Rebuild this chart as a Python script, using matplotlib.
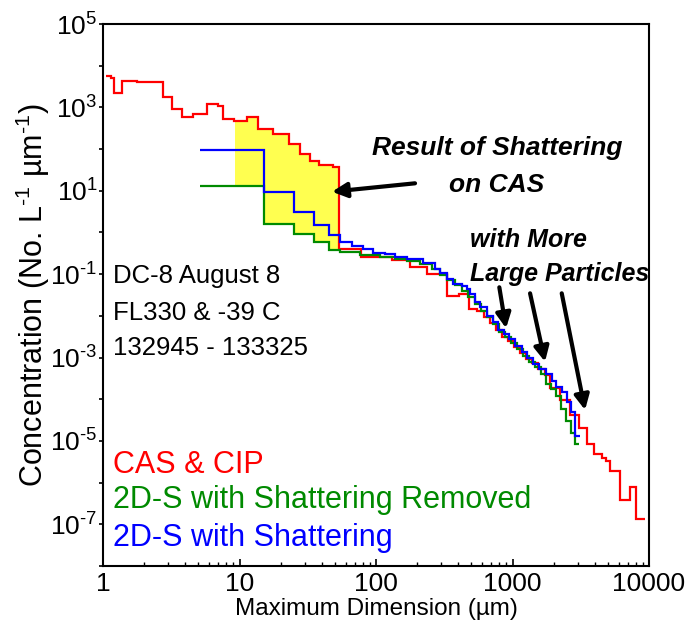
import numpy as np
import matplotlib
matplotlib.use('Agg')
import matplotlib.pyplot as plt
from matplotlib.ticker import FixedLocator, FuncFormatter, LogLocator, NullFormatter

plt.rcParams['font.family'] = 'Liberation Sans'
plt.rcParams['mathtext.fontset'] = 'custom'
plt.rcParams['mathtext.rm'] = 'Liberation Sans'
plt.rcParams['mathtext.it'] = 'Liberation Sans:italic'
plt.rcParams['mathtext.bf'] = 'Liberation Sans:bold'

# CAS & CIP combined size distribution: bin edges (um) and concentration per bin
cas_edges = [1.06, 1.14, 1.20, 1.37, 1.77, 2.74, 3.22, 3.81, 4.59, 5.81, 6.92, 7.61,
             9.11, 11.3, 13.7, 17.5, 23.0, 27.8, 32.8, 38.4, 48.2, 53.8, 77.2, 130,
             178, 235, 331, 406, 480, 550, 618, 684, 757, 838, 927, 1026, 1135, 1256,
             1390, 1538, 1730, 1882, 2228, 2638, 3070, 3514, 3955, 4526, 4842, 5180,
             6132, 7259, 8032, 9348]
cas_conc = [5700, 5000, 2270, 4330, 4030, 1730, 927, 587, 703, 1200, 1110, 525,
            460, 573, 307, 233, 132, 76, 53, 41.6, 36.5, 0.407, 0.259, 0.214,
            0.148, 0.0989, 0.0294, 0.0329, 0.0144, 0.0129, 0.0093, 0.0067, 0.0045,
            0.0031, 0.0025, 0.0018, 0.00127, 0.00092, 0.00074, 0.00053, 0.00038,
            0.000185, 9.6e-5, 4.2e-5, 2.05e-5, 8.5e-6, 4.9e-6, 3.9e-6, 3.3e-6,
            1.9e-6, 3.9e-7, 7.9e-7, 1.36e-7]

# 2D-S with shattered particles removed
s2d_clean_edges = [5.14, 15.1, 25.1, 35.1, 45.5, 54.5, 76.3, 107, 138, 169, 210, 257,
                   294, 331, 379, 427, 472, 531, 588, 651, 720, 796, 881, 975, 1079,
                   1194, 1321, 1462, 1618, 1760, 1915, 2083, 2266, 2466, 2683, 2871, 3070]
s2d_clean_conc = [12.8, 1.64, 0.896, 0.576, 0.371, 0.332, 0.282, 0.252, 0.226, 0.202,
                  0.1715, 0.130, 0.0936, 0.0711, 0.0540, 0.0388, 0.0279, 0.0189,
                  0.0129, 0.00926, 0.0063, 0.00405, 0.00308, 0.00221, 0.00159,
                  0.00108, 0.000776, 0.000589, 0.000401, 0.000231, 0.000175,
                  0.000119, 5.83e-5, 3.01e-5, 1.55e-5, 8.5e-6]

# 2D-S including shattered particles
s2d_raw_edges = [5.14, 15.1, 25.1, 35.1, 45.5, 54.5, 66.4, 80.3, 95.1, 116, 138, 169,
                 221, 270, 294, 331, 367, 427, 464, 488, 531, 578, 650, 720, 783, 866,
                 943, 1043, 1173, 1277, 1413, 1564, 1760, 1947, 2083, 2305, 2507, 2683,
                 2871, 3123]
s2d_raw_conc = [96.7, 9.21, 3.06, 1.47, 0.848, 0.586, 0.470, 0.407, 0.327, 0.298,
                0.262, 0.226, 0.188, 0.130, 0.1045, 0.0751, 0.057, 0.051, 0.0433,
                0.0329, 0.0212, 0.0161, 0.0098, 0.0070, 0.0045, 0.0036, 0.0028,
                0.0019, 0.00135, 0.00097, 0.00070, 0.00053, 0.00040, 0.00027,
                0.00020, 0.00015, 8.6e-5, 4.9e-5, 1.3e-5]

# size range where CAS is contaminated by shattering
shatter_range = (9.3, 53.8)

red = '#ff0000'
green = '#008a00'
blue = '#0000ff'


def step_value(edges, vals, x):
    i = np.searchsorted(edges, x, side='right') - 1
    return np.asarray(vals)[np.clip(i, 0, len(vals) - 1)]


def exp_label(v, pos):
    e = int(round(np.log10(v)))
    if e % 2 == 0:
        return ''
    # plain hyphen rather than a math minus in the exponent
    return '$10^{\\text{%d}}$' % e


fig = plt.figure(figsize=(6.97, 6.34), dpi=100)
ax = fig.add_axes([0.1478, 0.1073, 0.7834, 0.8548])

# yellow band between CAS and the cleaned 2D-S
lo, hi = shatter_range
xs = np.array(sorted({lo, hi} | {e for e in cas_edges + s2d_clean_edges if lo < e < hi}))
ax.fill_between(xs, step_value(s2d_clean_edges, s2d_clean_conc, xs),
                step_value(cas_edges, cas_conc, xs), step='post',
                color='#ffff50', lw=0, zorder=1)

ax.stairs(cas_conc, cas_edges, baseline=None, color=red, lw=1.6, zorder=2)
ax.stairs(s2d_clean_conc, s2d_clean_edges, baseline=None, color=green, lw=1.6, zorder=3)
ax.stairs(s2d_raw_conc, s2d_raw_edges, baseline=None, color=blue, lw=1.6, zorder=4)

ax.set_xscale('log')
ax.set_yscale('log')
ax.set_xlim(1, 10000)
ax.set_ylim(1e-8, 1e5)

ax.xaxis.set_major_locator(FixedLocator([1, 10, 100, 1000, 10000]))
ax.xaxis.set_major_formatter(FuncFormatter(lambda v, p: f'{v:.0f}'))
ax.xaxis.set_minor_locator(LogLocator(base=10, subs=np.arange(2, 10)))
ax.xaxis.set_minor_formatter(NullFormatter())

exps = np.arange(-8, 6)
ax.yaxis.set_major_locator(FixedLocator(10.0 ** exps))
ax.yaxis.set_major_formatter(FuncFormatter(exp_label))
ax.yaxis.set_minor_locator(FixedLocator([]))

ax.tick_params(axis='x', which='major', direction='in', length=5, width=1.2,
               labelsize=19, pad=4)
ax.tick_params(axis='x', which='minor', direction='in', length=3, width=1)
ax.tick_params(axis='y', which='major', direction='out', length=3, width=1.2,
               labelsize=19, pad=1)
for s in ax.spines.values():
    s.set_linewidth(1.5)

ax.set_xlabel('Maximum Dimension (\u00b5m)', fontsize=17.5, labelpad=2)
ax.set_ylabel('Concentration (No. L$^{\\text{-1}}$ \u00b5m$^{\\text{-1}}$)', fontsize=22)
ax.yaxis.set_label_coords(-0.093, 0.5)

# flight information
for txt, y in [('DC-8 August 8', 0.522), ('FL330 & -39 C', 0.454),
               ('132945 - 133325', 0.389)]:
    ax.text(0.018, y, txt, transform=ax.transAxes, fontsize=18.5, va='baseline')

# series names
for txt, y, c in [('CAS & CIP', 0.1716, red),
                  ('2D-S with Shattering Removed', 0.107, green),
                  ('2D-S with Shattering', 0.0369, blue)]:
    ax.text(0.018, y, txt, transform=ax.transAxes, fontsize=22, color=c, va='baseline')

# annotations
for txt, y in [('Result of Shattering', 0.758), ('on CAS', 0.6906)]:
    ax.text(0.7216, y, txt, transform=ax.transAxes, fontsize=19, ha='center',
            va='baseline', fontweight='bold', fontstyle='italic')
for txt, y in [('with More', 0.5886), ('Large Particles', 0.5258)]:
    ax.text(0.672, y, txt, transform=ax.transAxes, fontsize=18, ha='left',
            va='baseline', fontweight='bold', fontstyle='italic')

arrow = dict(arrowstyle='-|>', color='black', lw=3, mutation_scale=22,
             shrinkA=0, shrinkB=0)
for tail, head in [((0.5714, 0.7061), (0.4194, 0.6906)),
                   ((0.7258, 0.5142), (0.7381, 0.4386)),
                   ((0.7821, 0.5031), (0.8095, 0.3769)),
                   ((0.8401, 0.5031), (0.8828, 0.2878))]:
    ax.annotate('', xy=head, xytext=tail, xycoords='axes fraction',
                textcoords='axes fraction', arrowprops=arrow)

fig.savefig('out.png', dpi=100)
